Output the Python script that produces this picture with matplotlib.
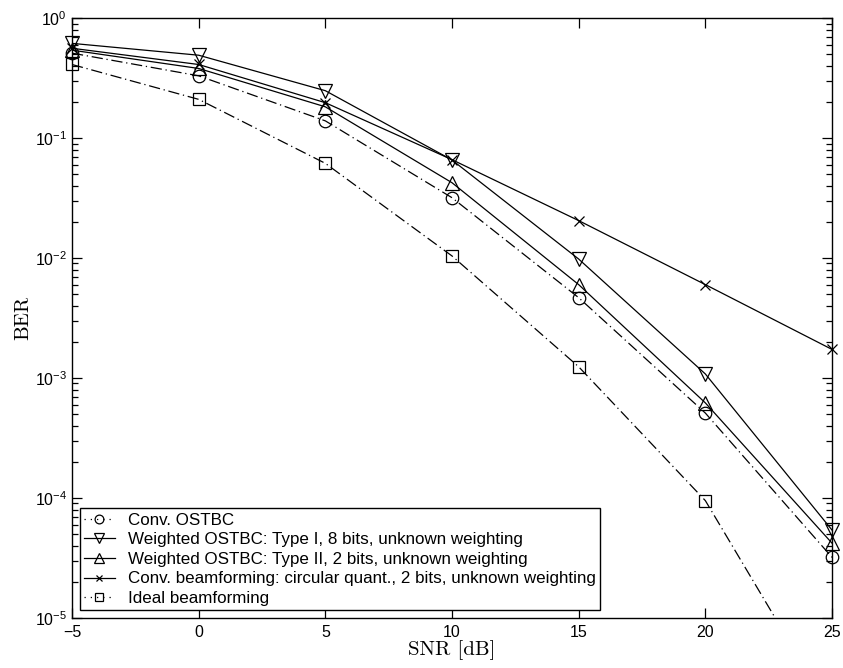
import matplotlib
matplotlib.use("Agg")
import matplotlib.pyplot as plt
from matplotlib.lines import Line2D
from matplotlib.ticker import LogLocator, NullFormatter, FixedLocator

plt.rcParams['font.family'] = ['Liberation Sans', 'DejaVu Sans']
plt.rcParams['mathtext.default'] = 'regular'

snr = [-5, 0, 5, 10, 15, 20, 25]

conv_ostbc = [0.51, 0.33, 0.139, 0.0318, 0.00467, 0.00051, 3.2e-5]
wostbc_type1 = [0.615, 0.49, 0.248, 0.0656, 0.0098, 0.00108, 5.4e-5]
wostbc_type2 = [0.54, 0.38, 0.182, 0.0424, 0.0060, 0.00062, 4.2e-5]
conv_bf = [0.56, 0.41, 0.197, 0.066, 0.0205, 0.0060, 0.00173]
ideal_bf = [0.41, 0.21, 0.0615, 0.0104, 0.00124, 9.5e-5, 1.6e-6]

labels = [
    "Conv. OSTBC",
    "Weighted OSTBC: Type I, 8 bits, unknown weighting",
    "Weighted OSTBC: Type II, 2 bits, unknown weighting",
    "Conv. beamforming: circular quant., 2 bits, unknown weighting",
    "Ideal beamforming",
]

fig = plt.figure(figsize=(8.43, 6.68), dpi=100)
ax = fig.add_axes([0.0854, 0.0749, 0.9016, 0.8981])

dashdot = (0, (9, 3, 1, 3))
lw = 0.9
mew = 0.9
styles = [
    dict(ls=dashdot, marker='o', ms=9),
    dict(ls='-', marker='v', ms=10),
    dict(ls='-', marker='^', ms=10),
    dict(ls='-', marker='x', ms=7),
    dict(ls=dashdot, marker='s', ms=8),
]
series = [conv_ostbc, wostbc_type1, wostbc_type2, conv_bf, ideal_bf]

handles = []
for vals, st, lab in zip(series, styles, labels):
    # line (clipped to the axes)
    ax.plot(snr, vals, color='black', linestyle=st['ls'], linewidth=lw, clip_on=True)
    # markers (only those inside the y-range), not clipped at the x edges
    xs = [x for x, v in zip(snr, vals) if v >= 1e-5]
    vs = [v for v in vals if v >= 1e-5]
    ax.plot(xs, vs, linestyle='none', marker=st['marker'], markersize=st['ms'],
            markerfacecolor='none', markeredgecolor='black', markeredgewidth=mew,
            clip_on=False, zorder=3)
    legend_ls = (0, (1, 4)) if st['ls'] == dashdot else '-'
    handles.append(Line2D([], [], color='black', linestyle=legend_ls, linewidth=lw,
                          marker=st['marker'], markersize=st['ms'] * 0.7,
                          markerfacecolor='none', markeredgecolor='black',
                          markeredgewidth=mew, label=lab))

ax.set_yscale('log')
ax.set_xlim(-5, 25)
ax.set_ylim(1e-5, 1)
ax.xaxis.set_major_locator(FixedLocator([-5, 0, 5, 10, 15, 20, 25]))
ax.yaxis.set_major_locator(LogLocator(base=10, numticks=10))
ax.yaxis.set_minor_locator(LogLocator(base=10, subs=range(2, 10), numticks=20))
ax.yaxis.set_minor_formatter(NullFormatter())

ax.tick_params(axis='both', which='both', direction='in', top=True, right=True,
               labelsize=11.5, width=0.9)
ax.tick_params(axis='both', which='major', length=7)
ax.tick_params(axis='both', which='minor', length=4)
ax.tick_params(axis='x', pad=5)
for s in ax.spines.values():
    s.set_linewidth(1.0)
    s.set_zorder(4)

ax.set_xlabel("SNR [dB]", fontfamily='cmr10', fontsize=15, labelpad=0)
ax.set_ylabel("BER", fontfamily='cmr10', fontsize=15, labelpad=2)

leg = ax.legend(handles=handles, loc='lower left', fontsize=12.25, frameon=True,
                fancybox=False, edgecolor='black', framealpha=1,
                borderaxespad=0.45, handlelength=1.8, labelspacing=0.27,
                borderpad=0.25, handletextpad=0.8)
leg.get_frame().set_linewidth(1.0)
leg.set_zorder(5)

fig.savefig("out.png", dpi=100)
